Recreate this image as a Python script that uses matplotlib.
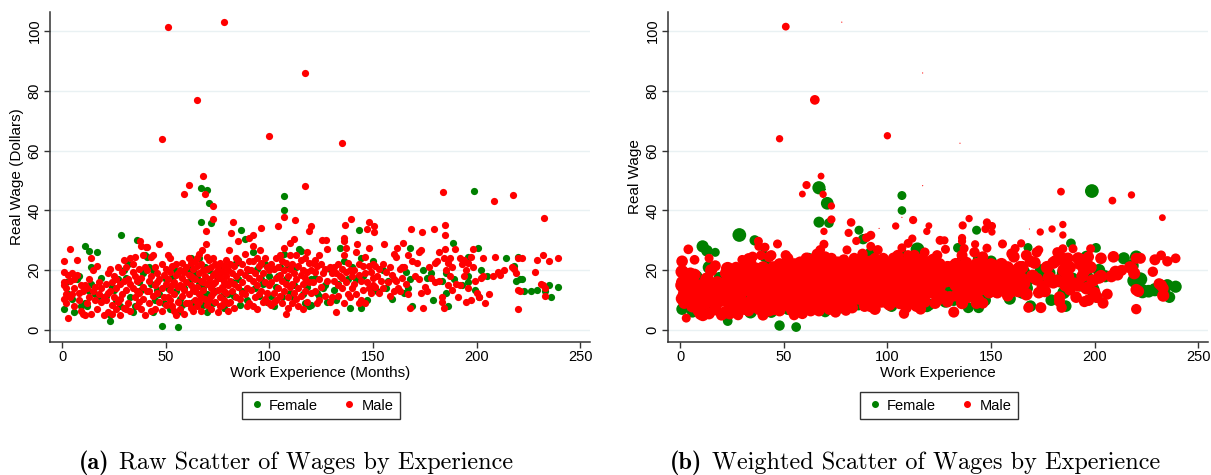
import numpy as np
import matplotlib.pyplot as plt
from matplotlib.lines import Line2D

plt.rcParams.update({
    'font.family': ['Liberation Sans', 'DejaVu Sans'],
    'font.size': 10,
})

# ---- Male: experience (months), real wage, weight ----
male_x = [
    51, 78, 117, 65, 48, 100, 135,
    68, 61, 59, 69, 117, 73, 183.7, 208.5, 217.7, 232.6, 73, 107, 112.4, 82.5, 139.4, 148, 150.4, 184.6, 136.3, 104,
    120, 69.4, 119, 81.3, 96, 150.4, 147.3, 168.5, 173.7, 179.4, 184.6, 92, 90, 112, 110, 136, 136, 125.4, 127.5, 142.3,
    155.5, 164.5, 161.6, 69.4, 85, 37.8, 38, 40.7, 47, 41, 4, 92, 95.4, 107, 128, 137, 148, 173, 184.6, 189.5, 198, 80.5, 67.6,
    1, 1, 1, 1, 1, 2, 2, 3, 3, 4, 5, 5, 6, 6, 7, 7, 8, 8, 9, 9, 10, 10, 4, 6, 2,
    11, 12, 12, 13, 14, 14, 15, 15, 16, 16, 17, 17, 18, 18, 19, 19, 20, 20, 13, 11,
    21, 21, 22, 22, 23, 23, 24, 24, 25, 25, 26, 26, 27, 27, 28, 28, 29, 29, 30, 30, 30, 22, 24, 26, 28,
    31, 31, 32, 32, 33, 33, 34, 34, 35, 35, 36, 36, 37, 37, 38, 38, 39, 39, 40, 40, 33, 35, 37, 31, 34, 36, 39,
    41, 41, 42, 42, 43, 43, 44, 44, 45, 45, 46, 46, 47, 47, 48, 48, 48, 49, 49, 50, 50, 50, 43, 45, 42, 46,
    51, 51, 51, 52, 52, 52, 53, 53, 54, 54, 55, 55, 55, 56, 56, 57, 57, 57, 58, 58, 58, 59, 59, 59, 60, 60, 60, 53, 56, 54, 52, 58,
    61, 61, 61, 62, 62, 62, 63, 63, 63, 64, 64, 64, 65, 65, 65, 66, 66, 66, 67, 67, 67, 68, 68, 69, 69, 70, 70, 70, 62, 64, 66, 68, 70, 61, 67, 63, 65,
    71, 71, 71, 72, 72, 72, 73, 73, 73, 74, 74, 74, 75, 75, 75, 76, 76, 76, 77, 77, 77, 78, 78, 78, 79, 79, 80, 80, 80, 80, 72, 74, 76, 78, 79, 73, 75,
    81, 81, 81, 82, 82, 83, 83, 83, 84, 84, 85, 85, 86, 86, 87, 87, 88, 88, 88, 89, 89, 90, 90, 90, 84, 87, 89,
    91, 91, 92, 92, 92, 93, 93, 94, 94, 94, 95, 95, 96, 96, 97, 97, 98, 98, 99, 99, 100, 100, 100, 95, 98,
    101, 101, 101, 102, 102, 103, 103, 103, 104, 104, 105, 105, 106, 106, 106, 107, 107, 108, 108, 108, 109, 109, 110, 110, 110, 102, 105, 109,
    111, 111, 111, 112, 112, 113, 113, 113, 114, 114, 115, 115, 115, 116, 116, 117, 117, 118, 118, 119, 119, 120, 120, 114, 116, 117, 118,
    121, 121, 122, 122, 123, 123, 124, 124, 125, 125, 126, 127, 127, 128, 129, 130, 130, 124, 129, 122,
    131, 131, 132, 132, 133, 133, 134, 135, 135, 136, 136, 137, 137, 138, 138, 139, 139, 140, 140, 135, 133,
    141, 141, 142, 142, 143, 143, 143, 144, 145, 145, 146, 146, 147, 148, 148, 149, 149, 150, 150, 150, 144, 146,
    151, 151, 152, 153, 154, 155, 156, 157, 158, 158, 159, 160, 160, 153, 155,
    161, 161, 162, 163, 164, 165, 166, 167, 167, 168, 169, 170, 163, 164, 160,
    171, 172, 172, 173, 174, 175, 176, 177, 178, 180, 180,
    181, 182, 182, 183, 184, 185, 186, 186, 187, 187, 188, 188, 190, 183, 184,
    191, 192, 192, 193, 194, 195, 195, 196, 196, 197, 198, 199, 200, 194, 197,
    201, 202, 203, 203, 204, 208, 209, 210, 206,
    211, 213, 217, 218, 219, 220, 220, 220,
    222, 228, 229, 221, 232, 232, 233, 233, 235, 239, 231,
]
male_y = [
    101.5, 103, 86, 77, 64, 65, 62.5,
    51.5, 48.5, 45.5, 45.4, 48.3, 41.5, 46.3, 43.3, 45.2, 37.6, 37, 37.7, 36.8, 36, 37.3, 36, 34.8, 35.3, 35, 34.8,
    34.9, 33, 33, 32.5, 34, 32.8, 33.8, 33.8, 32.8, 33.8, 31.8, 31.7, 30.9, 30.6, 29, 30.8, 29.7, 30, 30, 28.7,
    28.8, 29, 27.3, 28.7, 29.8, 29.7, 28, 27.8, 28.8, 27.7, 27, 28, 26.8, 27.5, 27, 27.3, 27.4, 26.8, 27.2, 27.2, 27.2, 26.8, 26.8,
    23, 19.5, 16, 15, 10.5, 9, 14, 4, 18.5, 16.5, 12, 19, 14, 8, 23.5, 18.5, 12.5, 10, 15, 6.5, 5.5, 13, 11, 17, 12,
    5, 9, 14, 17, 24, 5.5, 13, 20, 10, 14.5, 21.5, 7, 12, 16, 9.5, 14, 5, 11, 11, 15,
    15.5, 10, 6, 19, 20.5, 13, 8.5, 16, 11, 18, 7, 14, 21, 9.5, 15.5, 5, 19.5, 12, 23.5, 7.5, 16.5, 12.5, 5.5, 17, 10.5,
    21, 13.5, 9, 17, 24, 6.5, 14, 19.5, 11, 24.5, 16.5, 8, 12.5, 20.5, 17.5, 7, 14.5, 10.5, 21, 5, 15.5, 18, 9.5, 7, 22, 13, 25,
    20, 13, 16.5, 9, 24.5, 18, 11.5, 25, 15, 7, 19, 12.5, 17, 9.5, 22, 14, 6.5, 18.5, 11, 20.5, 15.5, 8.5, 6.5, 21, 13, 16,
    25, 17, 11, 24, 19.5, 13.5, 21.5, 8, 16, 12, 22, 18.5, 5, 14.5, 9.5, 20, 15, 7, 22.5, 17.5, 11.5, 19.5, 13.5, 5.5, 21, 16, 9, 15, 19, 6.5, 10, 14.5,
    24, 18.5, 12, 22.5, 15, 7.5, 20.5, 13.5, 6.5, 23, 17, 10, 21.5, 14.5, 8, 25.5, 19, 12, 22, 16.5, 6.5, 20, 13.5, 18, 10.5, 24.5, 15.5, 8.5, 18, 13, 9.5, 16, 20.5, 9, 11, 17.5, 24,
    23.5, 17, 10, 21, 14, 7, 24, 18.5, 12.5, 22, 16, 9.5, 20.5, 13.5, 6, 22.5, 17.5, 11, 19.5, 14.5, 8.5, 21.5, 16, 10, 18, 12.5, 20, 15, 6.5, 9, 11.5, 19, 8, 13, 23.5, 15.5, 18,
    22, 16.5, 9.5, 19, 13, 21.5, 15.5, 7.5, 18, 11, 23, 14.5, 19.5, 10.5, 22, 16, 25.5, 18.5, 12, 20.5, 14, 23, 17.5, 9, 24, 12.5, 8,
    20, 13.5, 23, 16.5, 8, 19, 11, 24, 15, 7, 21.5, 17.5, 22.5, 13, 19, 9.5, 24, 16, 21, 12.5, 20, 15, 9, 12, 10.5,
    22, 16, 8.5, 20.5, 12.5, 24, 17.5, 10, 21, 14, 18.5, 11.5, 23, 16.5, 9, 20, 13, 5.5, 22.5, 15.5, 18, 11, 25, 20.5, 14.5, 9.5, 25, 7.5,
    22, 15.5, 9, 19, 12.5, 25, 17, 10.5, 21.5, 14, 23.5, 18.5, 11.5, 20, 15.5, 24, 13, 19.5, 9.5, 22.5, 16, 20, 12.5, 8, 7, 17.5, 26,
    22.5, 16, 19.5, 13, 21.5, 9, 17, 10, 22, 14.5, 19, 20.5, 11.5, 16.5, 21, 19, 11, 25, 9.5, 23.5,
    21, 16.5, 6, 19, 22, 11.5, 18, 20.5, 14, 25, 9, 19.5, 16, 22.5, 12, 20, 11, 18, 14, 17.5, 15,
    20, 15.5, 26, 12, 22, 18.5, 9, 16.5, 21.5, 13.5, 24.5, 19, 16, 21.5, 14, 19.5, 12.5, 22, 17.5, 15, 10, 9,
    21.5, 14.5, 18, 20.5, 16.5, 14, 19.5, 16, 21, 11.5, 18.5, 17, 13, 12.5, 22,
    24.5, 16.5, 14, 20.5, 17.5, 21, 15.5, 25, 12, 7.5, 23, 18, 13, 21, 25.5,
    22.5, 26, 17, 12.5, 7.5, 14.5, 13, 21, 17.5, 22.5, 16,
    23, 26, 16.5, 11, 7.5, 20, 22.5, 15, 24, 18, 21, 13.5, 15.5, 9.5, 24,
    11, 24, 15, 22, 23.5, 20, 9.5, 22.5, 14, 10, 21, 16.5, 12.5, 18, 24.5,
    11, 17.5, 24, 18, 9, 18, 24.5, 19.5, 12,
    18.5, 20, 21, 20.5, 19, 7, 24, 13.5,
    24, 19.5, 23.5, 13, 25, 15, 11.5, 14, 23, 24, 15.5,
]
male_w = [
    .45, .01, .01, .7, .4, .4, .01,
    .35, .5, .35, .4, .01, .4, .45, .45, .4, .35, .5, .01, .5, .55, .4, .5, .5, .4, .5, .4,
    .35, .4, .4, .5, .01, .4, .5, .01, .4, .4, .4, .6, .6, .5, .6, .5, .5, .6, .5, .5,
    .6, .5, .6, .6, .5, .6, .6, .5, .6, .6, .7, .6, .7, .6, .6, .6, .6, .6, .6, .6, .6, .6, .7,
    1.0, 1.3, 1.1, 1.4, 1.2, 1.0, 1.3, 0.6, 1.2, 1.4, 1.1, 1.0, 1.3, 1.2, 0.7, 1.1, 1.3, 1.2, 1.0, 1.1, 1.2, 1.4, 1.3, 1.1, 1.2,
    1.1, 1.3, 1.2, 1.4, 0.6, 1.0, 1.3, 1.1, 1.2, 1.4, 0.9, 1.2, 1.3, 1.1, 1.0, 1.2, 0.9, 1.3, 1.1, 1.2,
    1.3, 1.1, 1.2, 1.0, 1.4, 1.2, 1.1, 1.3, 1.2, 1.0, 1.1, 1.4, 0.9, 1.2, 1.3, 0.8, 1.1, 1.3, 0.7, 1.2, 1.4, 1.1, 1.0, 1.3, 1.2,
    1.2, 1.4, 1.1, 1.3, 0.8, 1.0, 1.3, 1.2, 1.1, 0.8, 1.4, 1.2, 1.3, 1.1, 1.2, 1.0, 1.4, 1.2, 1.1, 0.9, 1.3, 1.2, 1.1, 1.0, 1.2, 1.3, 0.7,
    1.2, 1.3, 1.4, 1.1, 0.9, 1.2, 1.3, 0.8, 1.4, 1.1, 1.2, 1.3, 1.4, 1.2, 1.1, 1.3, 1.0, 1.2, 1.4, 1.1, 1.3, 1.2, 1.0, 1.1, 1.2, 1.3,
    0.8, 1.3, 1.2, 0.9, 1.1, 1.4, 1.2, 1.1, 1.3, 1.2, 1.1, 1.4, 0.8, 1.3, 1.2, 1.1, 1.4, 1.0, 1.2, 1.3, 1.1, 1.2, 1.4, 0.9, 1.1, 1.3, 1.2, 1.4, 1.2, 1.0, 1.1, 1.3,
    1.0, 1.3, 1.2, 1.1, 1.4, 1.2, 1.3, 1.1, 1.0, 1.2, 1.4, 1.3, 1.1, 1.2, 1.3, 0.8, 1.4, 1.2, 1.3, 1.1, 1.0, 1.2, 1.4, 1.3, 1.1, 0.9, 1.2, 1.3, 1.4, 1.2, 1.1, 1.3, 1.2, 1.1, 1.4, 1.2, 1.0,
    1.1, 1.3, 1.2, 1.4, 1.2, 1.0, 0.9, 1.3, 1.2, 1.1, 1.4, 1.2, 1.3, 1.1, 0.9, 1.2, 1.4, 1.3, 1.1, 1.2, 1.0, 1.3, 1.4, 1.2, 1.1, 1.3, 1.2, 1.4, 0.8, 1.1, 1.3, 1.2, 1.0, 1.3, 0.9, 1.2, 1.4,
    1.2, 1.4, 1.1, 1.3, 1.2, 1.1, 1.4, 1.0, 1.3, 1.2, 1.0, 1.3, 1.2, 1.1, 1.3, 1.4, 0.8, 1.2, 1.3, 1.1, 1.4, 1.0, 1.2, 1.1, 0.9, 1.3, 1.0,
    1.3, 1.2, 1.0, 1.4, 1.1, 1.2, 1.3, 0.9, 1.4, 1.0, 1.2, 1.3, 1.1, 1.2, 1.4, 1.1, 0.9, 1.3, 1.2, 1.1, 1.4, 1.2, 1.0, 1.3, 1.1,
    1.2, 1.3, 1.1, 1.4, 1.2, 1.0, 1.3, 1.2, 1.1, 1.4, 1.3, 1.2, 1.0, 1.4, 1.1, 1.3, 1.2, 0.8, 1.1, 1.4, 1.3, 1.2, 0.8, 1.1, 1.3, 1.2, 0.9, 1.0,
    1.2, 1.3, 1.1, 1.4, 1.2, 0.9, 1.3, 1.1, 1.2, 1.4, 1.0, 1.3, 1.2, 1.1, 1.4, 0.9, 1.2, 1.3, 1.1, 1.2, 1.4, 1.3, 1.1, 1.0, 0.9, 1.3, 0.7,
    1.2, 1.4, 1.1, 1.3, 1.2, 1.0, 1.4, 1.1, 1.2, 1.3, 1.1, 1.2, 1.0, 1.4, 1.2, 1.3, 1.1, 0.8, 1.0, 1.1,
    1.2, 1.3, 0.9, 1.1, 1.2, 1.0, 1.4, 1.2, 1.3, 0.9, 1.1, 1.2, 1.4, 1.1, 1.2, 1.3, 1.0, 1.2, 1.3, 1.1, 1.2,
    1.2, 1.3, 0.8, 1.1, 1.2, 1.3, 1.0, 1.4, 1.2, 1.1, 0.9, 1.3, 1.2, 1.1, 1.3, 1.2, 1.0, 1.1, 1.3, 1.2, 1.0, 0.9,
    1.2, 1.1, 1.3, 1.2, 1.4, 1.1, 1.2, 1.3, 1.1, 1.0, 1.2, 1.3, 1.1, 1.0, 1.2,
    1.0, 1.2, 1.3, 1.1, 1.4, 1.2, 1.1, 0.9, 1.2, 0.8, 1.0, 1.3, 1.1, 1.2, 0.9,
    1.1, 0.8, 1.2, 1.0, 0.9, 1.2, 1.1, 1.2, 1.3, 1.1, 1.2,
    1.1, 0.8, 1.2, 1.0, 0.8, 1.2, 1.1, 1.3, 1.0, 1.2, 1.1, 1.0, 1.2, 0.9, 1.1,
    1.0, 1.1, 1.2, 1.1, 1.0, 1.2, 0.9, 1.1, 1.2, 1.0, 1.1, 1.2, 1.0, 1.1, 0.9,
    1.0, 1.1, 1.0, 1.2, 0.9, 1.1, 1.0, 1.1, 0.9,
    1.0, 0.9, 1.1, 1.0, 1.1, 0.8, 0.9, 1.0,
    0.9, 0.8, 0.9, 1.0, 0.7, 1.0, 1.1, 0.9, 0.8, 0.7, 0.9,
]

# ---- Female ----
female_x = [
    67, 70, 71, 107, 107, 67, 71.8, 86.3, 28.6, 143, 198.6, 36, 88.3, 188.5, 200.6, 167.8, 134, 114.5, 10.9, 13, 17,
    1, 2, 3, 5, 6, 8, 9, 7,
    14, 12, 14, 18, 19, 11, 16, 13,
    23, 23, 24, 26, 27, 30, 25, 28, 21,
    40, 32, 35, 37, 39, 33, 38, 31, 34,
    48, 44, 42, 44, 46, 49, 41, 47, 50, 43, 45,
    56, 56, 53, 55, 57, 60, 59, 54, 52, 58, 51,
    66, 62, 64, 65, 67, 68, 69, 70, 61, 63, 62, 66, 68, 64, 70,
    71, 72, 73, 74, 75, 76, 77, 78, 79, 80,
    85, 84, 85, 87, 89, 83, 82, 86, 90,
    92, 94, 95, 97, 99, 100, 96, 93, 98,
    107, 105, 102, 103, 104, 106, 108, 110, 109, 101,
    115, 112, 113, 116, 117, 118, 119, 120, 111, 120,
    122, 124, 126, 127, 129, 128, 123,
    131, 132, 133, 136, 138, 139, 140,
    144, 142, 144, 147, 149, 150, 145,
    152, 154, 156, 157, 159, 155,
    168, 169, 167, 165, 166,
    174, 176, 179, 178,
    185, 183, 186, 185, 189,
    196, 196, 196, 199, 193,
    202, 201, 205,
    214, 218, 219, 220, 221,
    222, 223, 226, 229, 235, 236, 239, 233,
]
female_y = [
    47.6, 47, 42.4, 45, 40, 36.1, 35.8, 33.4, 31.8, 33.4, 46.5, 30, 30.4, 29, 27.5, 27.6, 27.5, 27, 28, 26.5, 26,
    7, 16, 12, 10.5, 6, 18, 8, 17,
    21, 8, 15.5, 10.5, 17.5, 9, 12, 13,
    5, 3, 14.5, 10, 17, 20, 13.5, 8, 11.5,
    25, 22, 8, 16, 19, 11, 13.5, 17.5, 6,
    1.5, 6, 21, 20, 13.5, 9, 24.5, 12, 17, 15.5, 10,
    1, 6, 17.5, 13, 10.5, 20.5, 14, 20.5, 7, 8.5, 14,
    24, 24, 13, 17.5, 11.5, 14.5, 21, 6, 16, 9.5, 20.5, 15.5, 8.5, 19, 12,
    20, 15.5, 9, 13, 17.5, 20.5, 11.5, 7.5, 15.5, 12,
    23.5, 22.5, 17, 13, 10, 11.5, 16, 8.5, 20,
    26, 20.5, 11.5, 15.5, 9.5, 18, 17, 14, 22,
    25.5, 21, 8, 14.5, 18, 11, 17, 12.5, 21.5, 11.5,
    26.5, 15, 21, 12, 9, 14.5, 8, 17, 11.5, 8.5,
    17.5, 11.5, 14, 15, 20.5, 9.5, 12.5,
    13.5, 10, 15.5, 23, 17, 7.5, 21,
    24, 17, 7.5, 10, 13, 23, 18,
    13, 20.5, 14, 16.5, 10.5, 20,
    17, 8, 14, 12.5, 19.5,
    20, 17.5, 10, 19,
    19, 16.5, 8, 12.5, 17,
    24.5, 18, 16, 13.5, 15,
    20, 11, 18,
    24, 21.5, 16.5, 24.5, 17,
    17, 13, 13, 13.5, 15, 11, 14.5, 13,
]
female_w = [
    1.3, .02, 1.2, .6, .55, .9, .7, .6, 1.4, .6, 1.4, .8, .8, .7, .7, .6, .7, 1.4, 1.1, 1.0, .6,
    1.0, 1.2, 1.1, 1.3, 0.9, 1.0, 1.2, 1.1,
    1.2, 1.0, 1.3, 1.1, 1.0, 1.2, 1.3, 1.1,
    0.9, 0.7, 1.2, 1.1, 1.3, 1.0, 1.2, 1.1, 1.0,
    0.9, 1.0, 1.2, 1.3, 1.1, 1.2, 1.0, 1.1, 1.2,
    0.8, 1.0, 1.2, 1.1, 1.3, 1.0, 0.9, 1.2, 1.1, 1.3, 1.0,
    0.7, 1.0, 1.2, 1.3, 1.1, 1.0, 1.2, 1.1, 1.0, 1.2, 1.3,
    1.0, 0.9, 1.2, 1.3, 1.1, 1.2, 1.0, 0.8, 1.3, 1.1, 1.2, 1.3, 1.0, 1.2, 1.1,
    1.2, 1.3, 1.1, 1.2, 1.0, 1.3, 1.1, 1.0, 1.2, 1.3,
    1.0, 1.1, 1.3, 1.2, 1.0, 1.1, 1.2, 1.0, 1.3,
    0.9, 1.2, 1.1, 1.3, 1.0, 1.2, 1.1, 1.3, 1.0,
    0.9, 1.2, 1.0, 1.3, 1.1, 1.2, 1.3, 1.1, 1.0, 1.2,
    1.2, 1.3, 1.1, 1.2, 1.0, 1.3, 1.1, 1.2, 1.0, 1.1,
    1.2, 1.1, 1.3, 1.0, 1.2, 1.1, 1.0,
    1.2, 1.0, 1.3, 1.1, 1.2, 0.9, 1.1,
    1.0, 1.2, 0.9, 1.1, 1.3, 1.0, 1.2,
    1.1, 1.2, 1.0, 1.3, 1.1, 1.0,
    1.2, 1.0, 1.3, 1.1, 1.0,
    1.1, 1.3, 1.0, 1.2,
    1.4, 1.3, 1.0, 1.2, 1.4,
    1.1, 1.3, 1.2, 1.4, 1.2,
    1.2, 1.0, 1.1,
    1.1, 1.3, 1.4, 1.2, 1.4,
    1.4, 1.5, 1.2, 1.3, 1.1, 1.0, 1.1, 1.4,
]

x_ticks = [0, 50, 100, 150, 200, 250]
y_ticks = [0, 20, 40, 60, 80, 100]

GREEN = '#008000'
RED = '#ff0000'
W = 1211
H = 475

fig = plt.figure(figsize=(W / 100, H / 100), dpi=100)
ax1 = fig.add_axes([50 / W, 1 - 342 / H, 540 / W, 330 / H])
ax2 = fig.add_axes([668 / W, 1 - 342 / H, 540 / W, 330 / H])


def style(ax, xlabel, ylabel):
    ax.set_xlim(-5.8, 254.6)
    ax.set_ylim(-4, 106.4)
    ax.set_xticks(x_ticks)
    ax.set_yticks(y_ticks)
    for s in ['top', 'right']:
        ax.spines[s].set_visible(False)
    for s in ['left', 'bottom']:
        ax.spines[s].set_color('#333333')
        ax.spines[s].set_linewidth(1.1)
    ax.tick_params(length=4, width=1, color='#333333', labelsize=10.5, pad=2)
    for lab in ax.get_yticklabels():
        lab.set_rotation(90)
        lab.set_va('center')
    ax.grid(axis='y', color='#e9f1f3', linewidth=1)
    ax.set_axisbelow(True)
    ax.set_xlabel(xlabel, fontsize=11, labelpad=1)
    ax.set_ylabel(ylabel, fontsize=11, labelpad=3)


# (a) raw scatter
ax1.scatter(female_x, female_y, s=27, color=GREEN, linewidths=0, zorder=3)
ax1.scatter(male_x, male_y, s=27, color=RED, linewidths=0, zorder=3)
style(ax1, 'Work Experience (Months)', 'Real Wage (Dollars)')

# (b) weighted scatter
ax2.scatter(female_x, female_y, s=np.array(female_w) * 70, color=GREEN, linewidths=0, zorder=3)
ax2.scatter(male_x, male_y, s=np.array(male_w) * 70, color=RED, linewidths=0, zorder=3)
style(ax2, 'Work Experience', 'Real Wage')

handles = [
    Line2D([], [], ls='none', marker='o', ms=4, color=GREEN, label='Female'),
    Line2D([], [], ls='none', marker='o', ms=4, color=RED, label='Male'),
]
for ax, cx in [(ax1, 321 / W), (ax2, 939 / W)]:
    leg = ax.legend(handles=handles, loc='center', bbox_to_anchor=(cx, 1 - 405.5 / H),
                    bbox_transform=fig.transFigure, ncol=2, fontsize=10.5, frameon=True,
                    fancybox=False, edgecolor='black', handletextpad=0.3, columnspacing=1.6,
                    borderpad=0.45, handlelength=1.1, borderaxespad=0)
    leg.get_frame().set_linewidth(1)

# captions, bold label + roman text, Computer Modern, centred under each subfigure
renderer = fig.canvas.get_renderer()
for cx, tag, rest in [(296, '(a)', 'Raw Scatter of Wages by Experience'),
                      (915, '(b)', 'Weighted Scatter of Wages by Experience')]:
    t1 = fig.text(0, 1 - 469 / H, tag, fontfamily='cmb10', fontsize=17.5, va='baseline')
    t2 = fig.text(0, 1 - 469 / H, rest, fontfamily='cmr10', fontsize=17.5, va='baseline')
    w1 = t1.get_window_extent(renderer).width
    w2 = t2.get_window_extent(renderer).width
    x0 = cx - (w1 + 10 + w2) / 2
    t1.set_x(x0 / W)
    t2.set_x((x0 + w1 + 10) / W)

fig.savefig('out.png', dpi=100)
